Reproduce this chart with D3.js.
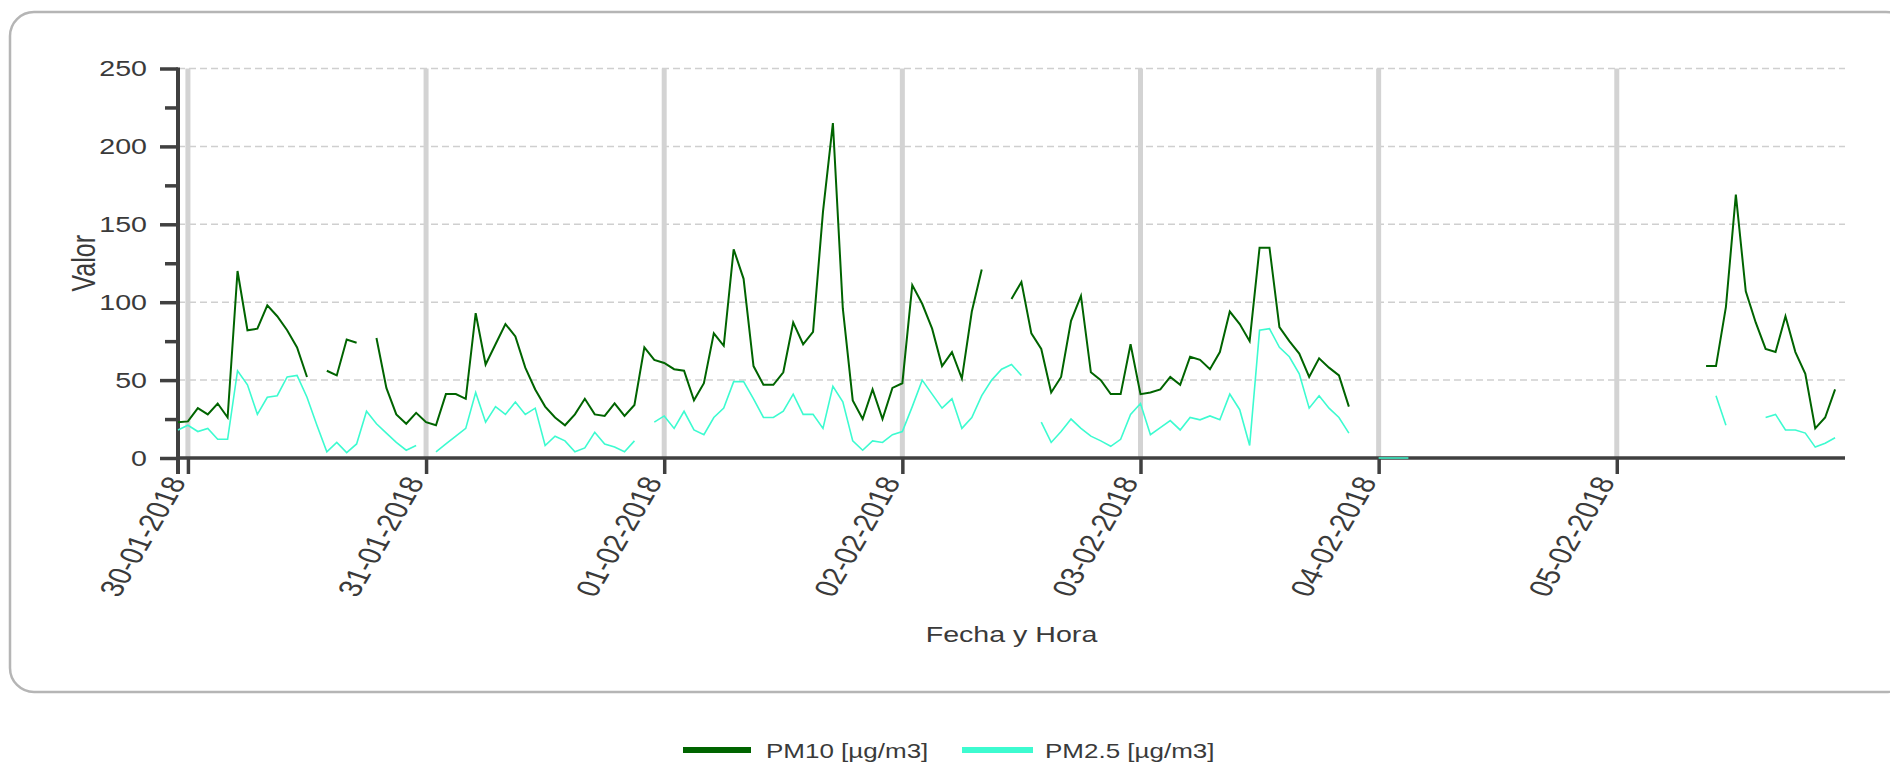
<!DOCTYPE html>
<html>
<head>
<meta charset="utf-8">
<script src="https://cdn.jsdelivr.net/npm/d3@7"></script>
<style>
  html, body { margin: 0; padding: 0; background: #ffffff; }
  svg { display: block; }
  text { font-family: "Liberation Sans", Arial, sans-serif; fill: #3a3a3a; }
</style>
</head>
<body>
<svg id="chart" width="1890" height="764"></svg>
<script>
// ---------------- DATA (hourly, first value = 29-01-2018 23:00) ----------------
const startTime = new Date(2018, 0, 29, 23, 0, 0);
const dayTicks = ["2018-01-30", "2018-01-31", "2018-02-01", "2018-02-02", "2018-02-03", "2018-02-04", "2018-02-05"];
const yTickValues = [0, 50, 100, 150, 200, 250];
const yMinorValues = [25, 75, 125, 175, 225];
const seriesNames = ["PM10 [µg/m3]", "PM2.5 [µg/m3]"];

const pm10 = [23,
  // 30-01
  23.5, 32, 28, 35, 26, 120, 82, 83, 98, 91, 82, 71, 52, null, 56, 53, 76, 74, null, 77, 45, 28, 22, 29,
  // 31-01
  23, 21, 41, 41, 38, 93, 60, 73, 86, 78, 58, 44, 33, 26, 21, 28, 38, 28, 27, 35, 27, 34, 71, 63,
  // 01-02
  61, 57, 56, 37, 48, 80, 72, 134, 115, 59, 47, 47, 55, 87, 73, 81, 158, 215, 96, 37, 25, 44, 25, 45,
  // 02-02
  48, 111, 99, 83, 59, 68, 51, 94, 121, null, null, 102, 113, 80, 70, 42, 52, 88, 104, 55, 50, 41, 41, 73,
  // 03-02
  41, 42, 44, 52, 47, 65, 63, 57, 68, 94, 86, 75, 135, 135, 84, 75, 67, 52, 64, 58, 53, 33, null, null,
  // 04-02
  null, null, null, null, null, null, null, null, null, null, null, null,
  null, null, null, null, null, null, null, null, null, null, null, null,
  // 05-02
  null, null, null, null, null, null, null, null, null, 59, 59, 97, 169, 107, 87, 70, 68, 91, 68, 54, 19, 26, 44
];

const pm25 = [18,
  // 30-01
  21, 17, 19, 12, 12, 56, 47, 28, 39, 40, 52, 53, 39, 21, 4, 10, 3.5, 9, 30, 22, 16, 10, 5, 8,
  // 31-01
  null, 4, 9, 14, 19, 42, 23, 33, 28, 36, 28, 32, 8, 14, 11, 4, 6.5, 16.5, 9, 7, 4, 11, null, 23,
  // 01-02
  27, 19, 30, 18, 15, 26, 32, 49, 49, 38, 26, 26, 30, 41, 28, 28, 19, 46, 36, 11, 5, 11, 10, 15,
  // 02-02
  17, 33, 50, 41, 32, 38, 19, 26, 40, 50, 57, 60, 53, null, 23, 10, 17, 25, 19, 14, 11, 7.5, 12, 28,
  // 03-02
  35, 15, 19.5, 24, 18, 26, 24.5, 27, 24.5, 41, 31, 8, 82, 83, 71, 65, 54, 32, 40, 32, 26, 16, null, null,
  // 04-02
  0, 0, 0, 0, null, null, null, null, null, null, null, null,
  null, null, null, null, null, null, null, null, null, null, null, null,
  // 05-02
  null, null, null, null, null, null, null, null, null, null, 40, 21, null, null, null, 26, 28, 18, 18, 16, 7, 9.5, 13
];

// ---------------- LAYOUT ----------------
const SX = 1.3; // horizontal stretch of the reference's text
const svg = d3.select("#chart");
const plot = { left: 178, right: 1845, top: 68.5, bottom: 458 };
const colors = ["#006400", "#3dfbd0"];

const x = d3.scaleTime()
  .domain([startTime, new Date(2018, 1, 5, 23, 0, 0)])
  .range([plot.left, plot.right]);
const y = d3.scaleLinear().domain([0, 250]).range([plot.bottom, plot.top]);

const hourMs = 3600 * 1000;
const toPoints = arr => arr.map((v, i) => ({ t: new Date(startTime.getTime() + i * hourMs), v }));
const tickDates = dayTicks.map(s => { const p = s.split("-"); return new Date(+p[0], +p[1] - 1, +p[2]); });

// outer rounded frame
svg.append("rect")
  .attr("x", 10).attr("y", 12).attr("width", 1900).attr("height", 680)
  .attr("rx", 24).attr("ry", 24)
  .attr("fill", "none").attr("stroke", "#b5b5b5").attr("stroke-width", 2.5);

// horizontal dashed grid
svg.append("g").selectAll("line").data(yTickValues.filter(v => v > 0)).join("line")
  .attr("x1", plot.left).attr("x2", plot.right)
  .attr("y1", d => y(d)).attr("y2", d => y(d))
  .attr("stroke", "#cfcfcf").attr("stroke-width", 1.5).attr("stroke-dasharray", "7,4");

// vertical day grid
svg.append("g").selectAll("line").data(tickDates).join("line")
  .attr("x1", d => x(d)).attr("x2", d => x(d))
  .attr("y1", plot.top).attr("y2", plot.bottom)
  .attr("stroke", "#d3d3d3").attr("stroke-width", 5);

// y axis
const yAxis = d3.axisLeft(y).tickValues(yTickValues).tickSize(18).tickFormat("");
const gy = svg.append("g").attr("transform", `translate(${plot.left},0)`).call(yAxis);
gy.select(".domain").remove();
gy.selectAll(".tick line").attr("stroke", "#404040").attr("stroke-width", 3.5);
const yMinor = d3.axisLeft(y).tickValues(yMinorValues).tickSize(13).tickFormat("");
const gym = svg.append("g").attr("transform", `translate(${plot.left},0)`).call(yMinor);
gym.select(".domain").remove();
gym.selectAll(".tick line").attr("stroke", "#404040").attr("stroke-width", 3.5);
svg.append("line").attr("x1", plot.left).attr("x2", plot.left)
  .attr("y1", plot.top - 1).attr("y2", plot.bottom + 16)
  .attr("stroke", "#404040").attr("stroke-width", 4);

yTickValues.forEach(v => {
  svg.append("text")
    .attr("transform", `translate(147,${y(v)}) scale(${SX},1)`)
    .attr("text-anchor", "end").attr("dy", "0.36em")
    .style("font-size", "22px").text(v);
});

// x axis
const xAxis = d3.axisBottom(x).tickValues(tickDates).tickSize(16).tickFormat("");
const gx = svg.append("g").attr("transform", `translate(0,${plot.bottom})`).call(xAxis);
gx.select(".domain").remove();
gx.selectAll(".tick line").attr("stroke", "#404040").attr("stroke-width", 3.5);
svg.append("line").attr("x1", plot.left - 2).attr("x2", plot.right)
  .attr("y1", plot.bottom).attr("y2", plot.bottom)
  .attr("stroke", "#404040").attr("stroke-width", 3.5);

const fmt = d3.timeFormat("%d-%m-%Y");
tickDates.forEach(d => {
  svg.append("text")
    .attr("transform", `translate(${x(d) - 12},${plot.bottom + 20}) scale(${SX},1) rotate(-66)`)
    .attr("text-anchor", "end").attr("dy", "0.36em")
    .style("font-size", "25px").text(fmt(d));
});

// axis titles
svg.append("text")
  .attr("transform", `translate(${(plot.left + plot.right) / 2},${642}) scale(${SX},1)`)
  .attr("text-anchor", "middle").style("font-size", "22px").text("Fecha y Hora");
svg.append("text")
  .attr("transform", `translate(95,${(plot.top + plot.bottom) / 2}) scale(${SX},1) rotate(-90)`)
  .attr("text-anchor", "middle").style("font-size", "25px").text("Valor");

// series
const line = d3.line().defined(d => d.v != null).x(d => x(d.t)).y(d => y(d.v));
[pm10, pm25].forEach((arr, i) => {
  svg.append("path").datum(toPoints(arr))
    .attr("fill", "none").attr("stroke", colors[i])
    .attr("stroke-width", i === 0 ? 2 : 1.6)
    .attr("stroke-linejoin", "miter")
    .attr("d", line);
});

// legend
const legendItems = [
  { x0: 683, x1: 751, tx: 766 },
  { x0: 962, x1: 1033, tx: 1045 }
];
legendItems.forEach((it, i) => {
  svg.append("line").attr("x1", it.x0).attr("x2", it.x1).attr("y1", 750).attr("y2", 750)
    .attr("stroke", colors[i]).attr("stroke-width", 6);
  svg.append("text")
    .attr("transform", `translate(${it.tx},758) scale(${SX},1)`)
    .style("font-size", "20px").text(seriesNames[i]);
});
</script>
</body>
</html>
